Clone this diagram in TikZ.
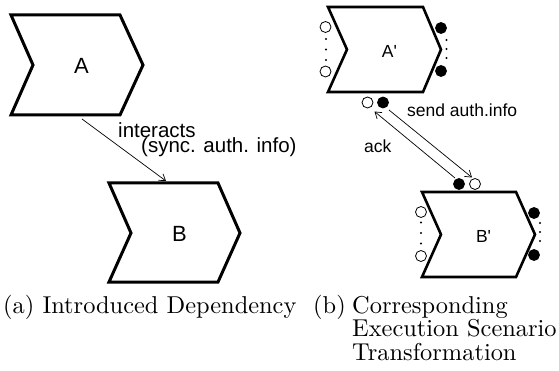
\documentclass[tikz,border=0pt]{standalone}
\usepackage{fontspec}
\newfontfamily\lsans{Liberation Sans}
\usetikzlibrary{arrows.meta}
\begin{document}
\begin{tikzpicture}[x=1pt,y=-1pt,
  chevbig/.style={line width=3pt,line join=miter},
  chevsmall/.style={line width=2.6pt,line join=miter},
  biglab/.style={font=\lsans\fontsize{22}{22}\selectfont,inner sep=0pt},
  smalllab/.style={font=\lsans\fontsize{17.5}{17.5}\selectfont,inner sep=0pt},
  edgelab/.style={font=\lsans\fontsize{20.5}{20.5}\selectfont,inner sep=0pt,anchor=base west},
  msglab/.style={font=\lsans\fontsize{17.5}{17.5}\selectfont,inner sep=0pt,anchor=base west},
  caplab/.style={inner sep=0pt,anchor=base west},
  opencirc/.style={circle,draw,line width=0.8pt,fill=white,minimum size=11pt,inner sep=0pt},
  fillcirc/.style={circle,draw,line width=0.8pt,fill=black,minimum size=11pt,inner sep=0pt},
  dotn/.style={circle,fill=black,minimum size=2.4pt,inner sep=0pt},
  conn/.style={line width=0.7pt,-{Straight Barb[length=6pt,width=8pt,line width=0.7pt]}}
]
\useasboundingbox (0,0) rectangle (559,371);

% (a) shapes
\draw[chevbig] (11,15) -- (120,15) -- (143,65) -- (120,115) -- (11,115) -- (33,65) -- cycle;
\node[biglab] (A) at (81.5,66) {A};
\draw[chevbig] (109,183) -- (218,183) -- (240,233) -- (218,282) -- (109,282) -- (131,233) -- cycle;
\node[biglab] (B) at (179.5,234) {B};

\coordinate (Aout) at (82,119);
\coordinate (Bin) at (166,181);
\draw[conn] (Aout) -- (Bin);
\node[edgelab] (lint) at (118,137.5) {interacts};
\node[edgelab] (lsync) at (141,153) {(sync. auth. info)};

% (b) shapes
\draw[chevsmall] (328,7) -- (423,7) -- (441,49.5) -- (423,92) -- (328,92) -- (347,49.5) -- cycle;
\node[smalllab] (Ap) at (389.5,51.5) {A'};
\draw[chevsmall] (422,192) -- (516,192) -- (535,234.5) -- (516,277) -- (422,277) -- (441,234.5) -- cycle;
\node[smalllab] (Bp) at (483.5,236.5) {B'};

% A' ports
\node[opencirc] (apl1) at (325.5,27) {};
\node[opencirc] (apl2) at (325.5,71.5) {};
\node[dotn] (apld1) at (326,39) {};
\node[dotn] (apld2) at (326,49.5) {};
\node[dotn] (apld3) at (326,60) {};
\node[fillcirc] (apr1) at (441,28) {};
\node[fillcirc] (apr2) at (441,71) {};
\node[dotn] (aprd1) at (446.5,40) {};
\node[dotn] (aprd2) at (446.5,49) {};
\node[dotn] (aprd3) at (446.5,58) {};
\node[opencirc] (apbo) at (367.5,102.5) {};
\node[fillcirc] (apbf) at (383,102.5) {};

% B' ports
\node[fillcirc] (bptf) at (459,184) {};
\node[opencirc] (bpto) at (475,184) {};
\node[opencirc] (bpl1) at (421,212) {};
\node[opencirc] (bpl2) at (421,256) {};
\node[dotn] (bpld1) at (421,222.5) {};
\node[dotn] (bpld2) at (421,233) {};
\node[dotn] (bpld3) at (421,243.5) {};
\node[fillcirc] (bpr1) at (534,213) {};
\node[fillcirc] (bpr2) at (534,255) {};
\node[dotn] (bprd1) at (540,223) {};
\node[dotn] (bprd2) at (540,232) {};
\node[dotn] (bprd3) at (540,241) {};

% messages
\coordinate (sendS) at (389,110);
\coordinate (sendE) at (472,177.5);
\coordinate (ackS) at (455,178);
\coordinate (ackE) at (374.5,111.5);
\draw[conn] (sendS) -- (sendE);
\draw[conn] (ackS) -- (ackE);
\node[msglab] (lsend) at (407,117) {send auth.info};
\node[msglab] (lack) at (364,153) {ack};

% captions
\node[caplab] (capa) at (3,313) {\scalebox{2.44}{(a) Introduced Dependency}};
\node[caplab] (capb) at (313,313) {\scalebox{2.44}{(b)}};
\node[caplab] (capb1) at (352,313) {\scalebox{2.44}{Corresponding}};
\node[caplab] (capb2) at (352,336.5) {\scalebox{2.44}{Execution Scenario}};
\node[caplab] (capb3) at (352,360) {\scalebox{2.44}{Transformation}};
\end{tikzpicture}
\end{document}
